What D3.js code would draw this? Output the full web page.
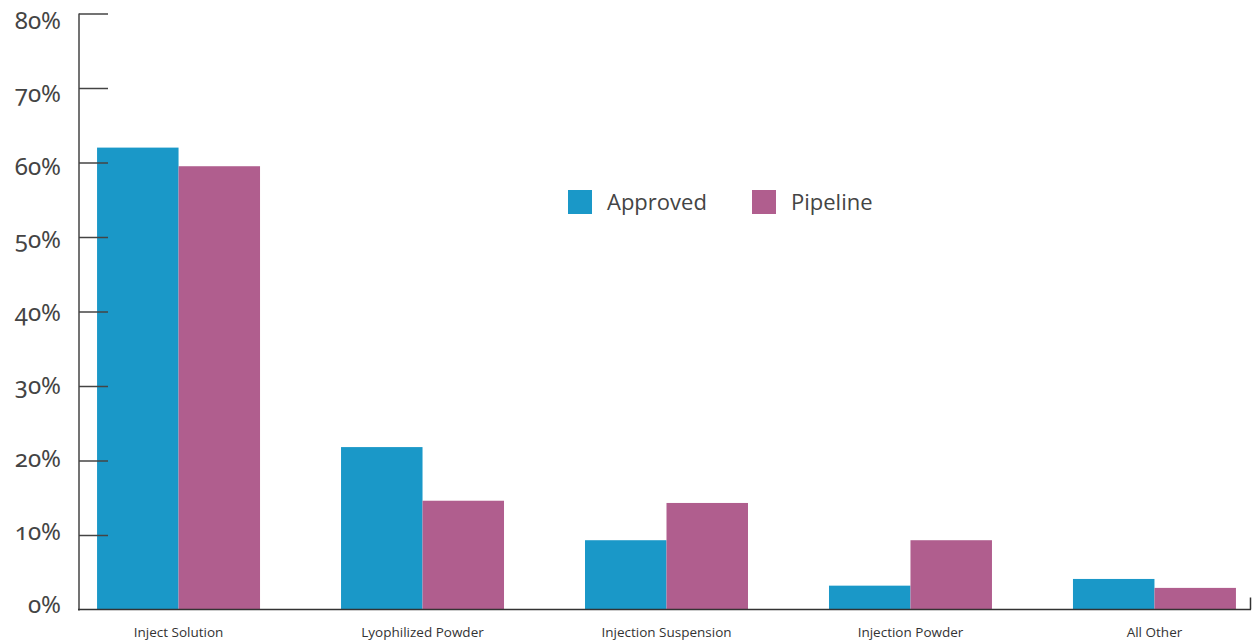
<!DOCTYPE html>
<html><head><meta charset="utf-8">
<script src="https://cdn.jsdelivr.net/npm/d3@7"></script>
<style>
body{margin:0;background:#fff;}
svg{display:block;}
.tick-l{font-family:"Noto Sans",sans-serif;font-size:24px;fill:#444;font-variant-numeric:oldstyle-nums;font-feature-settings:"onum" 1;}
.cat{font-family:"Open Sans",sans-serif;font-size:13.5px;fill:#333;}
.leg{font-family:"Open Sans",sans-serif;font-size:22px;fill:#444;}
</style></head>
<body>
<script>
const categories = ["Inject Solution","Lyophilized Powder","Injection Suspension","Injection Powder","All Other"];
const seriesNames = ["Approved","Pipeline"];
const approved = [62.0, 21.8, 9.3, 3.2, 4.1];
const pipeline = [59.5, 14.6, 14.3, 9.3, 2.9];
const tickValues = [0,10,20,30,40,50,60,70,80];
const colors = ["#1a98c8","#b05e8e"];

const W=1256,H=643;
const svg=d3.select("body").append("svg").attr("width",W).attr("height",H);
const y=d3.scaleLinear().domain([0,80]).range([609.5,13.5]);
const yLab=d3.scaleLinear().domain([0,80]).range([613,29]);
const x0=d3.scaleBand().domain(categories).range([79,1254]).paddingInner(0.332).paddingOuter(0.074);
const x1=d3.scaleBand().domain(seriesNames).range([0,x0.bandwidth()]);
const data=categories.map((c,i)=>({c,vals:[approved[i],pipeline[i]]}));

// bars
const g=svg.append("g");
data.forEach(d=>{
  d.vals.forEach((v,j)=>{
    g.append("rect").attr("x",x0(d.c)+x1(seriesNames[j])).attr("y",y(v))
     .attr("width",x1.bandwidth()).attr("height",y(0)-y(v)).attr("fill",colors[j]);
  });
});

// y axis
const ax=svg.append("g").attr("transform","translate(79,0)")
  .call(d3.axisRight(y).tickValues(tickValues).tickSize(29).tickFormat(""));
ax.select(".domain").remove();
ax.selectAll(".tick line").attr("stroke","#444").attr("stroke-width",1.5);
ax.selectAll(".tick").filter(d=>d===0).remove();
svg.append("line").attr("x1",79).attr("x2",79).attr("y1",y(80)).attr("y2",y(0)+1).attr("stroke","#444").attr("stroke-width",1.5);
svg.selectAll(".tick-l").data(tickValues).enter().append("text").attr("class","tick-l")
  .attr("x",61).attr("y",d=>yLab(d)).attr("text-anchor","end").text(d=>d+"%");

// baseline
svg.append("line").attr("x1",78).attr("x2",1251).attr("y1",y(0)).attr("y2",y(0)).attr("stroke","#333").attr("stroke-width",1.5);
svg.append("line").attr("x1",1250.5).attr("x2",1250.5).attr("y1",y(0)).attr("y2",y(0)-12).attr("stroke","#333").attr("stroke-width",1.5);

// categories
const xa=svg.append("g").attr("transform",`translate(0,${y(0)})`).call(d3.axisBottom(x0).tickSize(0));
xa.select(".domain").remove();
xa.selectAll("text").attr("class","cat").attr("dy",0).attr("y",27).style("font-family",'"Open Sans",sans-serif').style("font-size","13.5px").attr("fill","#333");

// legend
const legX=[568,752];
seriesNames.forEach((n,i)=>{
  svg.append("rect").attr("x",legX[i]).attr("y",190).attr("width",24).attr("height",24).attr("fill",colors[i]);
  svg.append("text").attr("class","leg").attr("x",legX[i]+39).attr("y",210).text(n);
});
</script>
</body></html>
